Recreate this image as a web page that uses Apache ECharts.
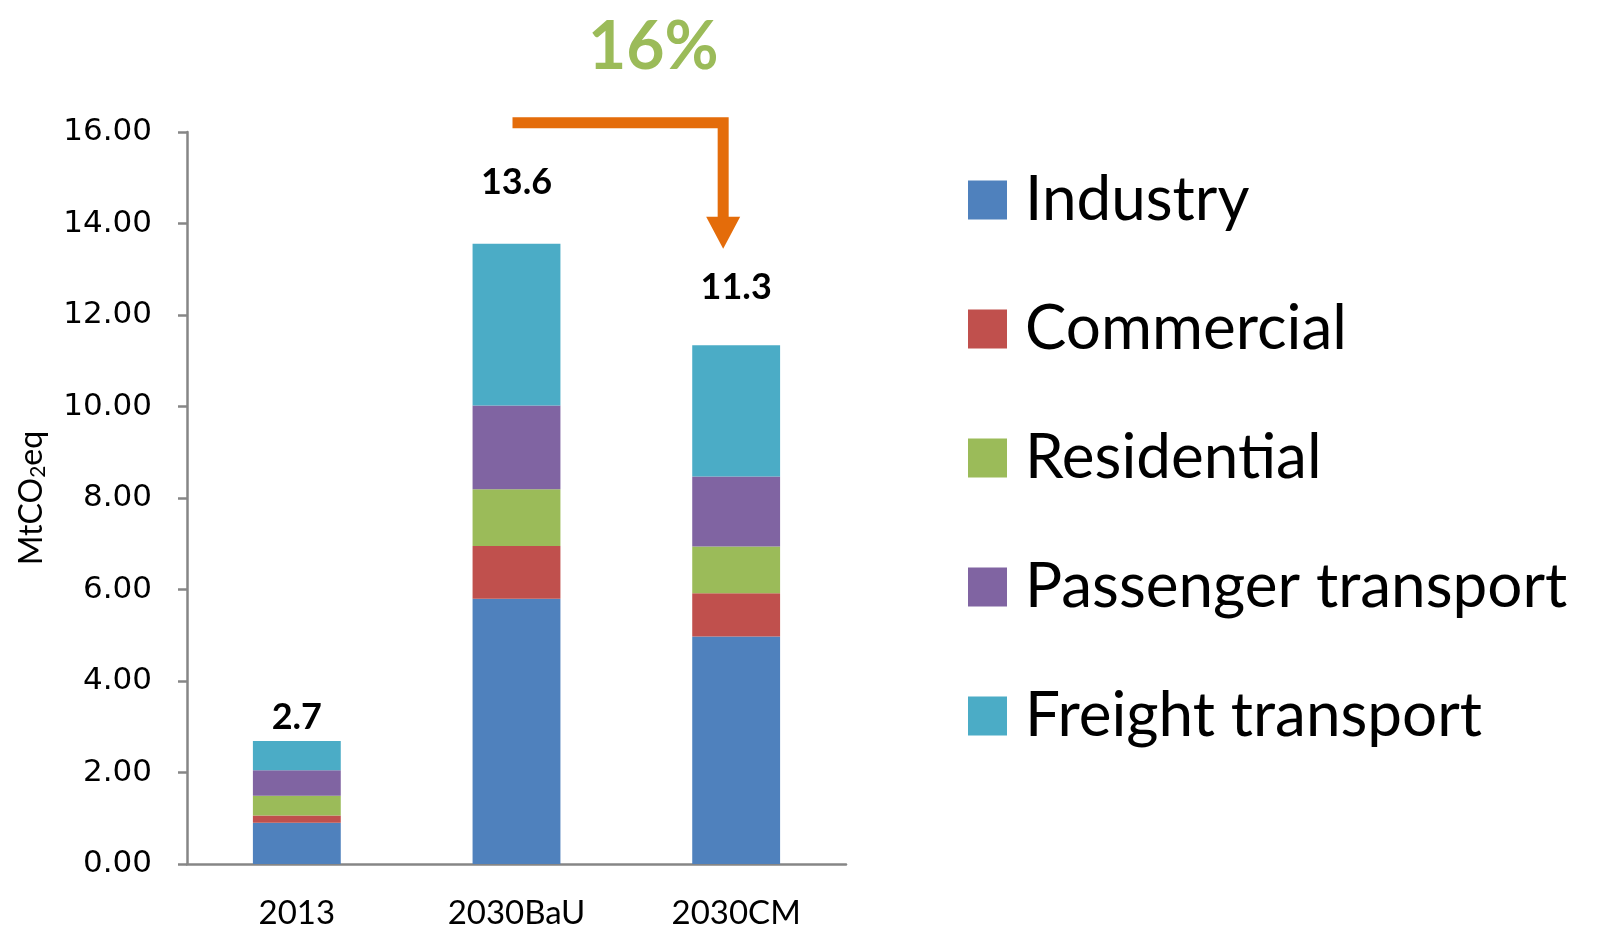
<!DOCTYPE html>
<html>
<head>
<meta charset="utf-8">
<script src="https://cdn.jsdelivr.net/npm/echarts@6/dist/echarts.min.js"></script>
<style>
  html, body { margin: 0; padding: 0; background: #fff; }
  #chart { width: 1618px; height: 930px; }
</style>
</head>
<body>
<div id="chart"></div>
<script>
// data (MtCO2eq)
const categories = ['2013', '2030BaU', '2030CM']
const industry = [0.90, 5.80, 4.97]
const commercial = [0.16, 1.15, 0.95]
const residential = [0.43, 1.24, 1.02]
const passenger = [0.56, 1.83, 1.53]
const freight = [0.64, 3.54, 2.87]
const totals = ['2.7', '13.6', '11.3']
const reductionText = '16%'
const yMin = 0
const yMax = 16
const yStep = 2

const colors = ['#4F81BD', '#C0504D', '#9BBB59', '#8064A2', '#4BACC6']
const labelGap = [6, 43, 40] // distance of total label above each bar

const chart = echarts.init(document.getElementById('chart'))

function stackSeries(name, data, idx) {
  return {
    name: name,
    type: 'bar',
    stack: 'total',
    barWidth: '40%',
    itemStyle: { color: colors[idx] },
    data: data
  }
}

const series = [
  stackSeries('Industry', industry, 0),
  stackSeries('Commercial', commercial, 1),
  stackSeries('Residential', residential, 2),
  stackSeries('Passenger transport', passenger, 3),
  stackSeries('Freight transport', freight.map((v, i) => ({
    value: v,
    label: {
      show: true,
      position: 'top',
      distance: labelGap[i],
      formatter: totals[i],
      fontFamily: 'Lato',
      fontWeight: 'bold',
      fontSize: 36,
      color: '#000'
    }
  })), 4)
]

chart.setOption({
  animation: false,
  color: colors,
  grid: { left: 187, right: 772, top: 132, bottom: 66 },
  legend: {
    orient: 'vertical',
    left: 963,
    top: 164,
    itemWidth: 39,
    itemHeight: 39,
    itemGap: 67,
    icon: 'rect',
    data: ['Industry', 'Commercial', 'Residential', 'Passenger transport', 'Freight transport'],
    textStyle: {
      fontFamily: 'Lato',
      fontSize: 62,
      color: '#000',
      padding: [0, 0, 0, 13]
    }
  },
  xAxis: {
    type: 'category',
    data: categories,
    axisLine: { lineStyle: { color: '#868686', width: 2.5 } },
    axisTick: { length: 10, lineStyle: { color: '#868686', width: 2.5 } },
    axisLabel: { fontFamily: 'Lato', fontSize: 33, color: '#000', margin: 33 }
  },
  yAxis: {
    type: 'value',
    min: yMin,
    max: yMax,
    interval: yStep,
    name: '{a|MtCO}{b|2}{a|eq}',
    nameLocation: 'middle',
    nameRotate: 90,
    nameGap: 138,
    nameTextStyle: {
      rich: {
        a: { fontFamily: 'Lato', fontSize: 32, color: '#000' },
        b: { fontFamily: 'Lato', fontSize: 21, color: '#000', padding: [13, 0, 0, 0] }
      }
    },
    splitLine: { show: false },
    axisLine: { show: true, lineStyle: { color: '#868686', width: 2.5 } },
    axisTick: { show: true, length: 9, lineStyle: { color: '#868686', width: 2.5 } },
    axisLabel: {
      fontFamily: 'DejaVu Sans',
      fontSize: 31,
      color: '#000',
      margin: 35,
      formatter: v => v.toFixed(2)
    }
  },
  series: series
})

// reduction arrow from BaU over to CM, placed in data units
const arrowLevel = 16.2
const arrowTip = 13.45
const p0 = chart.convertToPixel({ xAxisIndex: 0, yAxisIndex: 0 }, ['2030BaU', arrowLevel])
const p1 = chart.convertToPixel({ xAxisIndex: 0, yAxisIndex: 0 }, ['2030CM', arrowLevel])
const pTip = chart.convertToPixel({ xAxisIndex: 0, yAxisIndex: 0 }, ['2030CM', arrowTip])
const ax = p1[0] - 13
const headH = 32
const headW = 34

chart.setOption({
  graphic: [
    {
      type: 'polyline',
      shape: { points: [[p0[0] - 4, p0[1]], [ax, p0[1]], [ax, pTip[1] - headH + 2]] },
      style: { stroke: '#E46C0A', lineWidth: 11, fill: null, lineJoin: 'miter', lineCap: 'butt' }
    },
    {
      type: 'polygon',
      shape: { points: [[ax - headW / 2, pTip[1] - headH], [ax + headW / 2, pTip[1] - headH], [ax, pTip[1]]] },
      style: { fill: '#E46C0A' }
    },
    {
      type: 'text',
      left: 588,
      top: 15,
      style: {
        text: reductionText,
        fontFamily: 'Lato',
        fontWeight: 'bold',
        fontSize: 66,
        fill: '#9BBB59',
        shadowBlur: 6,
        shadowColor: 'rgba(155,187,89,0.5)'
      }
    }
  ]
})
</script>
</body>
</html>
